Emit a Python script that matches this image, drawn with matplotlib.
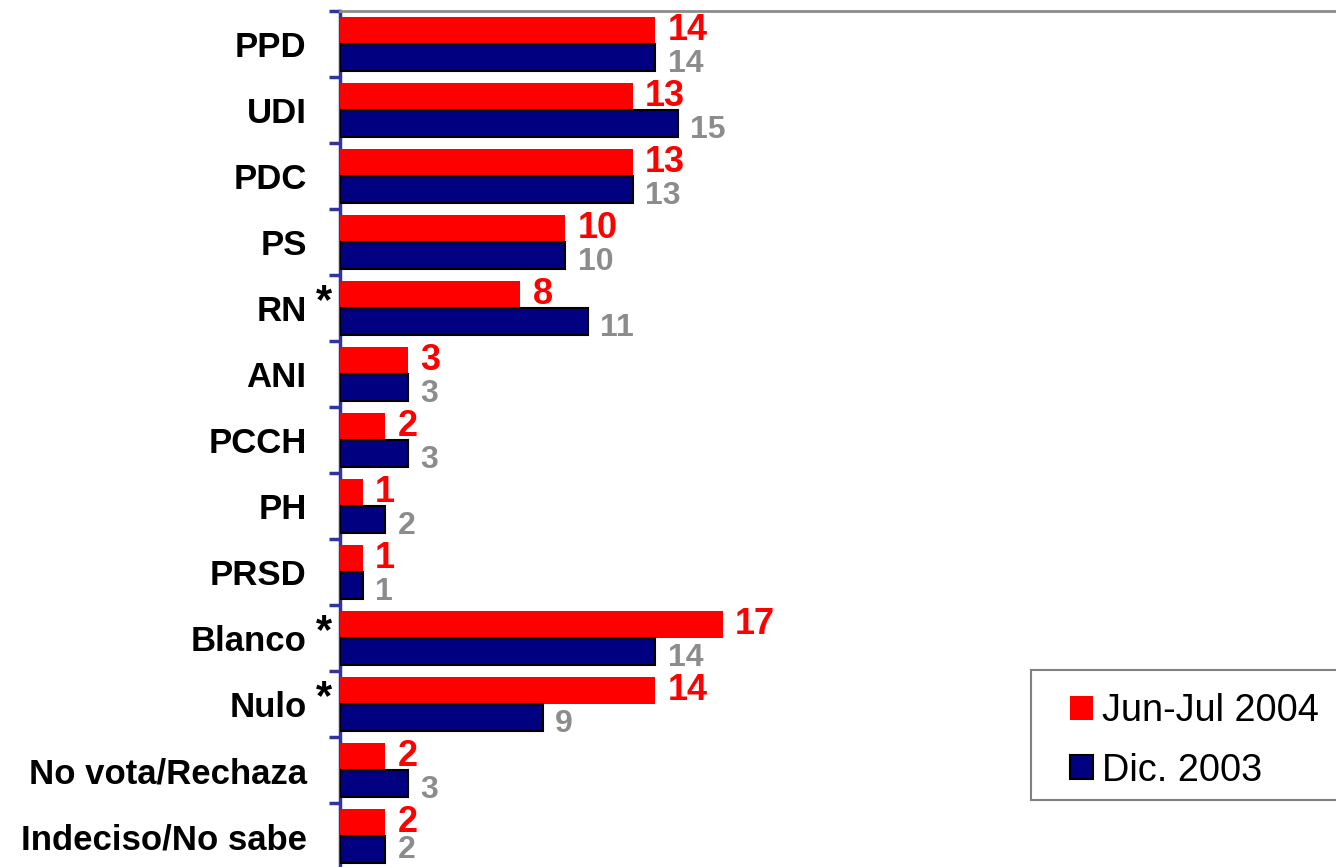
import matplotlib
matplotlib.use("Agg")
import matplotlib.pyplot as plt
from matplotlib.patches import Rectangle
import numpy as np

plt.rcParams["font.family"] = ["Liberation Sans", "DejaVu Sans"]

# datos
categorias = ["PPD", "UDI", "PDC", "PS", "RN", "ANI", "PCCH", "PH", "PRSD",
              "Blanco", "Nulo", "No vota/Rechaza", "Indeciso/No sabe"]
jun_jul_2004 = [14, 13, 13, 10, 8, 3, 2, 1, 1, 17, 14, 2, 2]
dic_2003 = [14, 15, 13, 10, 11, 3, 3, 2, 1, 14, 9, 3, 2]
con_asterisco = ["RN", "Blanco", "Nulo"]

ROJO = "#FF0000"
AZUL = "#000080"
GRIS = "#8C8C8C"
EJE = "#333399"

W, H = 1336, 867
fig = plt.figure(figsize=(W / 100, H / 100), dpi=100)
ax = fig.add_axes([340 / W, -2 / H, (W - 340) / W, 858 / H])

y = np.arange(len(categorias))
h = 0.41
ax.barh(y - h / 2, jun_jul_2004, height=h, color=ROJO, edgecolor="none",
        label="Jun-Jul 2004", zorder=3)
ax.barh(y + h / 2, dic_2003, height=h, color=AZUL, edgecolor="black",
        linewidth=1.5, label="Dic. 2003", zorder=3)

for yi, v in zip(y, jun_jul_2004):
    ax.annotate(str(v), (v, yi - h / 2), xytext=(9, 0), textcoords="offset points",
                va="center", ha="left", color=ROJO, fontsize=26, fontweight="bold")
for yi, v in zip(y, dic_2003):
    # la última etiqueta queda centrada para no salirse del gráfico
    dy = -5 if yi < len(categorias) - 1 else 0
    ax.annotate(str(v), (v, yi + h / 2), xytext=(9, dy), textcoords="offset points",
                va="center", ha="left", color=GRIS, fontsize=23, fontweight="bold")

ax.set_xlim(0, (W - 340) / 22.5)
ax.set_ylim(len(categorias) - 0.5, -0.5)

ax.set_yticks(y)
ax.set_yticklabels(categorias, fontsize=25, fontweight="bold")
ax.tick_params(axis="y", which="major", length=0, pad=24)
ax.set_yticks(np.arange(len(categorias) + 1) - 0.5, minor=True)
ax.tick_params(axis="y", which="minor", length=8, width=2.5, color=EJE, direction="out")
ax.set_xticks([])

for c in con_asterisco:
    i = categorias.index(c)
    ax.annotate("*", (0, i), xytext=(-11.5, 4), textcoords="offset points",
                ha="center", va="center", fontsize=30, fontweight="bold",
                annotation_clip=False)

ax.spines["left"].set_color(EJE)
ax.spines["left"].set_linewidth(2.5)
ax.spines["top"].set_color("#8C8C8C")
ax.spines["top"].set_linewidth(2)
ax.spines["right"].set_visible(False)
ax.spines["bottom"].set_visible(False)

# leyenda con marco dibujado aparte (sale por el borde derecho)
marco = Rectangle((1031 / W, 1 - 800 / H), 330 / W, 130 / H,
                  transform=fig.transFigure, facecolor="white",
                  edgecolor="#808080", linewidth=1.5, zorder=6, clip_on=False)
ax.add_patch(marco)
leg = ax.legend(loc="upper left", bbox_to_anchor=(1070 / W, 1 - 693 / H),
                bbox_transform=fig.transFigure, fontsize=27.3, frameon=False,
                handlelength=0.6, handleheight=0.6, handletextpad=0.25,
                labelspacing=0.62, borderpad=0, borderaxespad=0)
leg.set_zorder(7)

fig.savefig("out.png", dpi=100)
